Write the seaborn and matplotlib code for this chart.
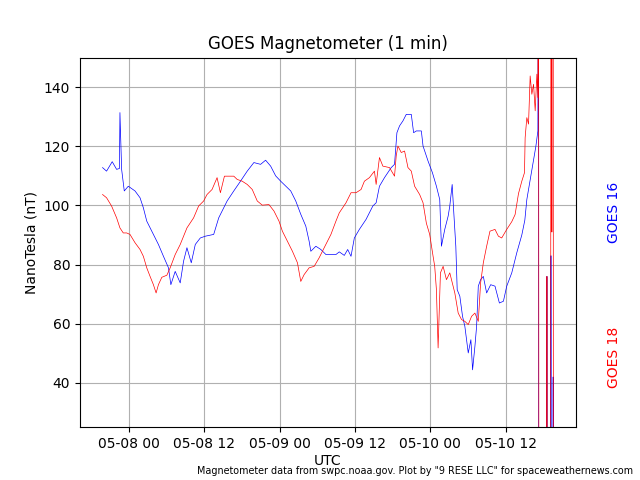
import pandas as pd
import matplotlib
matplotlib.use("Agg")
import matplotlib.pyplot as plt
import matplotlib.dates as mdates
import seaborn as sns

# hours after 2024-05-08 00:00 UTC, values in nT
g16_hours = [-4.21, -3.57, -2.67, -1.97, -1.52, -1.44, -1.17, -0.75, -0.11, 0.96, 1.76, 2.29, 2.83, 3.63,
             4.69, 5.49, 6.29, 6.67, 7.36, 8.16, 8.69, 9.23, 9.92, 10.56, 11.36, 12.16, 13.49, 14.29,
             15.09, 15.63, 16.69, 17.76, 18.83, 19.89, 20.96, 21.76, 22.56, 23.36, 24.16, 25.76, 26.56,
             27.36, 28.16, 28.69, 28.96, 29.76, 30.56, 31.36, 32.96, 33.49, 34.29, 34.83, 35.36, 35.89,
             36.69, 37.76, 38.83, 39.36, 39.89, 40.69, 41.76, 42.29, 42.67, 43.09, 43.63, 44.16, 44.96,
             45.33, 45.76, 46.56, 46.83, 47.63, 48.32, 48.96, 49.49, 49.6, 49.76, 50.29, 50.83, 51.09,
             51.47, 51.73, 52.05, 52.27, 52.69, 53.12, 53.49, 54.03, 54.45, 54.72, 55.09, 55.36, 55.63,
             56.0, 56.43, 56.96, 57.6, 58.29, 58.99, 59.63, 60.16, 60.96, 61.76, 62.56, 63.04, 63.36,
             63.84, 64.32, 64.8, 65.12, 65.2, 65.25, 66.5, 66.56, 66.62, 67.15, 67.2, 67.26, 67.5,
             67.55, 67.6]
g16_nt = [112.8, 111.6, 114.8, 112.2, 112.5, 131.4, 112.2, 104.9, 106.5, 104.9, 102.6, 99.2, 94.7, 91.3,
          86.8, 82.8, 78.9, 73.2, 77.7, 73.8, 81.1, 85.7, 80.6, 86.8, 89.0, 89.6, 90.2, 95.8,
          99.2, 101.5, 104.9, 108.2, 111.6, 114.5, 113.9, 115.3, 113.3, 110.0, 108.2, 104.9, 101.5,
          97.0, 93.0, 87.9, 84.5, 86.2, 85.1, 83.4, 83.4, 84.3, 83.1, 85.1, 82.8, 89.0,
          91.9, 95.3, 99.8, 100.9, 106.5, 109.4, 112.8, 113.9, 124.6, 126.9, 128.6, 130.8, 130.8,
          124.6, 125.2, 125.2, 120.1, 115.0, 111.1, 106.5, 102.0, 95.3, 86.2, 91.9, 96.4, 99.8,
          107.1, 97.5, 86.2, 71.5, 69.3, 62.5, 59.1, 50.1, 54.6, 44.4, 52.3, 59.1, 72.7,
          74.9, 76.0, 70.4, 73.2, 72.7, 67.0, 67.6, 72.7, 77.2, 84.0, 90.0, 95.0, 102.0,
          108.0, 114.0, 120.0, 125.2, 200.0, -100.0, -100.0, 76.0, -100.0, -100.0, 83.0, -100.0, -100.0,
          42.0, -100.0]

g18_hours = [-4.21, -3.57, -2.77, -1.97, -1.44, -0.91, -0.37, 0.16, 0.96, 1.76, 2.29, 2.83, 3.36, 3.89,
             4.32, 4.69, 5.23, 6.03, 6.56, 7.36, 8.16, 9.23, 10.29, 11.09, 11.89, 12.43, 13.23, 14.03,
             14.56, 15.2, 15.89, 16.69, 17.23, 18.03, 18.83, 19.63, 20.43, 21.23, 22.29, 23.09, 23.89,
             24.43, 25.23, 26.03, 26.83, 27.36, 27.89, 28.69, 29.49, 30.29, 31.09, 32.16, 32.96, 33.49,
             34.56, 35.36, 36.16, 36.96, 37.49, 38.29, 39.09, 39.36, 39.89, 40.43, 41.49, 42.29, 42.56,
             42.83, 43.36, 43.89, 44.43, 44.96, 45.49, 46.29, 46.83, 47.36, 47.89, 48.43, 48.69, 48.96,
             49.23, 49.6, 50.03, 50.56, 51.09, 51.89, 52.43, 52.96, 53.49, 54.03, 54.56, 55.09, 55.63,
             56.0, 56.43, 56.96, 57.49, 58.29, 58.83, 59.36, 60.16, 60.96, 61.49, 62.03, 62.56, 62.99,
             63.09, 63.36, 63.63, 63.89, 64.16, 64.43, 64.69, 64.96, 65.12, 65.22, 65.3, 66.5, 66.56,
             66.62, 67.12, 67.16, 67.22, 67.35, 67.45, 67.55, 67.6]
g18_nt = [103.7, 102.6, 99.8, 95.8, 92.4, 90.7, 90.7, 90.2, 87.4, 85.1, 82.8, 78.9, 76.0, 73.2,
          70.4, 73.2, 75.7, 76.4, 78.9, 83.4, 86.8, 92.4, 95.8, 99.8, 101.5, 103.7, 105.4, 109.4,
          104.3, 109.9, 109.9, 109.9, 108.8, 108.2, 107.1, 105.4, 101.5, 100.1, 100.3, 98.1, 94.7,
          91.3, 87.9, 84.5, 80.6, 74.3, 76.6, 78.9, 79.4, 82.3, 85.7, 90.2, 94.7, 97.5,
          100.9, 104.3, 104.3, 105.4, 108.2, 109.4, 111.6, 107.1, 116.2, 113.3, 112.8, 109.9, 116.8,
          120.1, 117.9, 118.4, 112.8, 111.6, 106.5, 103.7, 100.9, 94.0, 90.2, 82.8, 79.4, 71.5,
          51.8, 77.2, 79.4, 74.9, 77.2, 70.4, 63.6, 61.4, 60.8, 59.7, 62.5, 63.6, 60.8,
          73.8, 80.6, 86.2, 91.3, 91.9, 89.6, 89.0, 91.9, 94.5, 96.9, 104.0, 108.2, 111.1,
          122.9, 129.7, 127.5, 143.8, 137.6, 141.0, 132.0, 144.4, 136.5, 250.0, -100.0, -100.0, 76.0,
          -100.0, -100.0, 38.0, 300.0, 91.0, 300.0, 300.0, -100.0]

start = pd.Timestamp("2024-05-08 00:00")
df16 = pd.DataFrame({"time": start + pd.to_timedelta(g16_hours, unit="h"), "nT": g16_nt})
df18 = pd.DataFrame({"time": start + pd.to_timedelta(g18_hours, unit="h"), "nT": g18_nt})

fig, ax = plt.subplots(figsize=(6.4, 4.8), dpi=100)

sns.lineplot(data=df16, x="time", y="nT", color="blue", linewidth=0.5, estimator=None, ax=ax)
sns.lineplot(data=df18, x="time", y="nT", color="red", linewidth=0.5, estimator=None, ax=ax)

ax.set_ylim(25, 150)
ax.xaxis.set_major_locator(mdates.HourLocator(byhour=[0, 12]))
ax.xaxis.set_major_formatter(mdates.DateFormatter("%m-%d %H"))
ax.grid(True)

ax.set_title("GOES Magnetometer (1 min)")
ax.set_xlabel("UTC", labelpad=2)
ax.set_ylabel("NanoTesla (nT)")

fig.subplots_adjust(left=0.125, right=0.9, bottom=0.11, top=0.88)

# satellite labels on the right
fig.text(0.96, 0.558, "GOES 16", color="blue", rotation=90, ha="center", va="center")
fig.text(0.96, 0.256, "GOES 18", color="red", rotation=90, ha="center", va="center")

fig.text(0.99, 0.008, 'Magnetometer data from swpc.noaa.gov. Plot by "9 RESE LLC" for spaceweathernews.com',
         ha="right", va="bottom", fontsize=6.9)

plt.savefig("out.png", dpi=100)
